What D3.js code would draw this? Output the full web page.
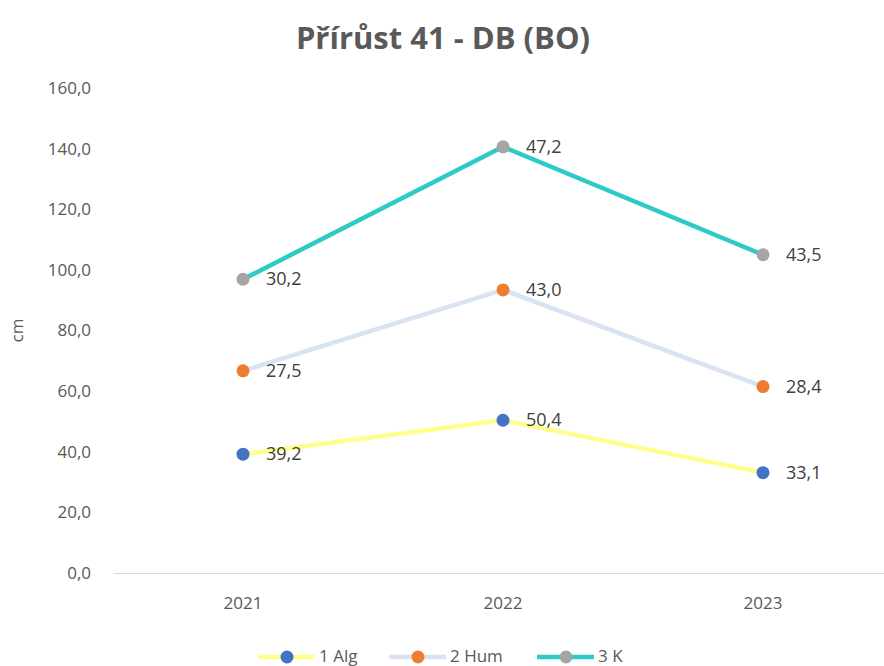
<!DOCTYPE html>
<html>
<head>
<meta charset="utf-8">
<script src="https://cdn.jsdelivr.net/npm/d3@7"></script>
<style>
body { margin: 0; background: #fff; }
text { font-family: "Open Sans", "Noto Sans", sans-serif; }
</style>
</head>
<body>
<div id="chart"></div>
<script>
var years = ["2021", "2022", "2023"];
var seriesNames = ["1 Alg", "2 Hum", "3 K"];
var alg = [39.2, 50.4, 33.1];
var hum = [27.5, 43.0, 28.4];
var k = [30.2, 47.2, 43.5];
var yTicks = [0, 20, 40, 60, 80, 100, 120, 140, 160];

var lineColors = ["#FFFF8C", "#DAE3F3", "#2ECAC8"];
var markerColors = ["#4472C4", "#ED7D31", "#A5A5A5"];

var W = 884, H = 666;
var plotLeft = 113, plotRight = 893, plotTop = 88, plotBottom = 573;

var svg = d3.select("#chart").append("svg")
	.attr("width", W)
	.attr("height", H);

var x = d3.scaleBand().domain(years).range([plotLeft, plotRight]);
var y = d3.scaleLinear().domain([0, 160]).range([plotBottom, plotTop]);

// stacked values
var raw = [alg, hum, k];
var stacked = [];
var acc = [0, 0, 0];
for (var s = 0; s < raw.length; s++)
{
	stacked[s] = raw[s].map(function(v, i)
	{
		acc[i] += v;
		return { year: years[i], value: v, total: acc[i] };
	});
}

svg.append("text")
	.attr("x", 443)
	.attr("y", 49)
	.attr("text-anchor", "middle")
	.attr("font-size", 31)
	.attr("font-weight", "bold")
	.attr("fill", "#595959")
	.text("Přírůst 41 - DB (BO)");

// y axis labels
var fmt = function(d) { return d3.format(".1f")(d).replace(".", ","); };
var yAxis = svg.append("g")
	.attr("transform", "translate(" + plotLeft + ",0)")
	.call(d3.axisLeft(y).tickValues(yTicks).tickFormat(fmt).tickSize(0).tickPadding(22));
yAxis.select(".domain").remove();
yAxis.selectAll("text")
	.attr("font-size", 17)
	.attr("fill", "#595959")
	.style("font-family", "'Open Sans', sans-serif");

// x axis
var xAxis = svg.append("g")
	.attr("transform", "translate(0," + plotBottom + ")")
	.call(d3.axisBottom(x).tickSize(0).tickPadding(24));
xAxis.select(".domain").attr("stroke", "#D9D9D9");
xAxis.selectAll("text")
	.attr("font-size", 17)
	.attr("fill", "#595959")
	.style("font-family", "'Open Sans', sans-serif");

svg.append("text")
	.attr("transform", "translate(23," + (y(80)) + ") rotate(-90)")
	.attr("text-anchor", "middle")
	.attr("font-size", 17)
	.attr("fill", "#595959")
	.text("cm");

var line = d3.line()
	.x(function(d) { return x(d.year) + x.bandwidth() / 2; })
	.y(function(d) { return y(d.total); });

stacked.forEach(function(ser, s)
{
	svg.append("path")
		.datum(ser)
		.attr("d", line)
		.attr("fill", "none")
		.attr("stroke", lineColors[s])
		.attr("stroke-width", 4.5)
		.attr("stroke-linecap", "round");
});

stacked.forEach(function(ser, s)
{
	var g = svg.append("g");
	g.selectAll("circle")
		.data(ser)
		.enter()
		.append("circle")
		.attr("cx", function(d) { return x(d.year) + x.bandwidth() / 2; })
		.attr("cy", function(d) { return y(d.total); })
		.attr("r", 6.5)
		.attr("fill", markerColors[s]);
	g.selectAll("text")
		.data(ser)
		.enter()
		.append("text")
		.attr("x", function(d) { return x(d.year) + x.bandwidth() / 2 + 23; })
		.attr("y", function(d) { return y(d.total) + 6; })
		.attr("font-size", 18)
		.attr("fill", "#404040")
		.text(function(d) { return fmt(d.value); });
});

// legend
var legendX = [258, 389, 537];
var legend = svg.append("g");
seriesNames.forEach(function(name, s)
{
	var lx = legendX[s];
	legend.append("line")
		.attr("x1", lx).attr("x2", lx + 57)
		.attr("y1", 657).attr("y2", 657)
		.attr("stroke", lineColors[s])
		.attr("stroke-width", 4.5);
	legend.append("circle")
		.attr("cx", lx + 29).attr("cy", 657)
		.attr("r", 6.5)
		.attr("fill", markerColors[s]);
	legend.append("text")
		.attr("x", lx + 61).attr("y", 662)
		.attr("font-size", 17)
		.attr("fill", "#595959")
		.text(name);
});
</script>
</body>
</html>
